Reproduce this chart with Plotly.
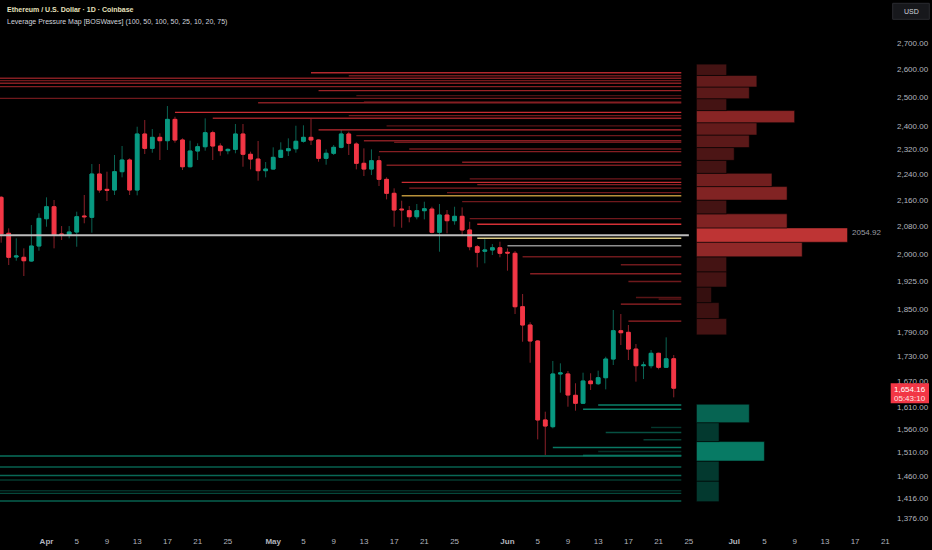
import numpy as np
import pandas as pd
import plotly.graph_objects as go

# ---------------- data ----------------
dates = pd.date_range("2025-03-26", periods=90, freq="D")

opens = [2168.3, 2060.5, 1992.3, 1991.5, 1981.1, 2023.6, 2103.5, 2139.6, 2058.5, 2054.6,
         2064.3, 2111.6, 2107.7, 2241.2, 2193.0, 2191.0, 2248.6, 2286.2, 2191.0, 2372.1,
         2324.3, 2360.9, 2349.7, 2421.8, 2352.0, 2264.5, 2315.6, 2329.7, 2376.5, 2332.0,
         2316.6, 2321.0, 2372.1, 2304.8, 2289.3, 2251.8, 2257.0, 2294.9, 2316.6, 2323.0,
         2347.7, 2360.9, 2352.0, 2291.6, 2308.1, 2327.7, 2372.1, 2338.7, 2275.5, 2257.0,
         2283.9, 2224.3, 2180.7, 2132.5, 2127.6, 2109.5, 2127.6, 2132.5, 2063.4, 2114.6,
         2097.6, 2110.7, 2070.2, 2021.6, 2008.6, 2012.3, 2018.7, 2005.7, 2002.9, 1856.7,
         1809.2, 1768.6, 1581.2, 1566.2, 1687.8, 1687.8, 1637.5, 1619.1, 1671.1, 1664.7,
         1678.9, 1723.9, 1794.6, 1790.5, 1748.5, 1707.7, 1707.7, 1738.0, 1703.8, 1724.6]
highs = [2172.4, 2075.0, 2045.8, 2017.0, 2084.8, 2119.7, 2168.3, 2160.1, 2081.8, 2081.8,
         2124.6, 2175.5, 2273.2, 2273.2, 2248.6, 2302.5, 2332.0, 2291.6, 2396.7, 2419.7,
         2388.8, 2374.4, 2468.1, 2430.9, 2357.5, 2349.7, 2341.0, 2425.3, 2383.2, 2341.0,
         2324.3, 2406.0, 2406.0, 2313.4, 2348.7, 2279.7, 2327.7, 2344.3, 2357.5, 2400.1,
         2401.5, 2425.3, 2354.1, 2321.0, 2335.3, 2385.6, 2379.8, 2344.3, 2324.3, 2321.0,
         2299.2, 2230.7, 2196.2, 2158.0, 2141.7, 2147.9, 2154.9, 2139.6, 2147.9, 2129.7,
         2139.6, 2137.7, 2094.6, 2026.5, 2042.9, 2029.4, 2036.1, 2017.0, 2009.4, 1890.5,
         1816.2, 1771.1, 1599.9, 1719.2, 1713.5, 1695.0, 1665.7, 1690.9, 1689.5, 1695.7,
         1729.6, 1848.1, 1837.6, 1809.2, 1761.1, 1717.4, 1746.2, 1739.5, 1777.8, 1733.8]
lows = [2033.2, 1969.8, 1981.9, 1939.4, 1979.1, 2010.3, 2079.8, 2017.0, 2041.0, 2045.8,
        2021.6, 2089.9, 2062.3, 2182.6, 2157.0, 2175.5, 2230.7, 2175.5, 2174.5, 2305.7,
        2310.0, 2286.2, 2318.9, 2343.0, 2254.0, 2262.5, 2286.2, 2316.6, 2286.2, 2300.2,
        2304.8, 2308.1, 2264.5, 2256.1, 2220.1, 2230.7, 2256.1, 2294.9, 2299.2, 2310.0,
        2343.0, 2335.3, 2280.7, 2271.0, 2302.5, 2324.3, 2302.5, 2256.1, 2234.8, 2238.0,
        2203.4, 2162.1, 2079.8, 2076.8, 2092.9, 2101.6, 2101.6, 2060.5, 2007.4, 2060.5,
        2085.7, 2052.6, 2011.4, 1963.4, 1974.6, 1998.0, 1991.5, 1954.1, 1837.6, 1766.8,
        1715.0, 1538.3, 1504.6, 1562.6, 1643.6, 1611.2, 1602.2, 1617.5, 1649.9, 1661.6,
        1651.4, 1709.4, 1758.5, 1721.6, 1669.5, 1675.7, 1701.3, 1699.0, 1703.8, 1632.8]
closes = [2058.5, 1991.5, 1995.2, 1981.9, 2023.6, 2104.6, 2139.6, 2055.5, 2055.5, 2064.3,
          2109.5, 2109.5, 2241.2, 2191.0, 2190.1, 2248.6, 2286.2, 2191.0, 2372.1, 2324.3,
          2360.9, 2349.7, 2421.8, 2352.0, 2264.5, 2315.6, 2329.7, 2376.5, 2332.0, 2316.6,
          2321.0, 2372.1, 2304.8, 2289.3, 2251.8, 2257.0, 2294.9, 2317.9, 2323.0, 2347.7,
          2360.9, 2352.0, 2291.6, 2308.1, 2327.7, 2372.1, 2341.0, 2275.5, 2257.0, 2283.9,
          2224.3, 2180.7, 2129.7, 2130.4, 2109.5, 2127.6, 2133.4, 2063.4, 2114.6, 2097.6,
          2110.7, 2070.2, 2021.6, 2005.7, 2012.3, 2018.7, 2002.9, 2003.7, 1856.7, 1809.2,
          1768.6, 1581.2, 1567.7, 1687.8, 1690.2, 1638.2, 1619.1, 1671.1, 1664.7, 1678.9,
          1723.9, 1794.6, 1789.5, 1748.5, 1707.7, 1709.4, 1738.0, 1703.8, 1724.6, 1654.16]

# short-side (red) liquidation levels: price, start date, weight
red_levels = [2587.5, 2576.4, 2567.2, 2558.5, 2549.0, 2536.8, 2522.5, 2504.9, 2495.0, 2483.7,
              2479.5, 2446.0, 2434.8, 2425.8, 2399.5, 2386.0, 2366.7, 2349.7, 2344.3, 2322.3,
              2313.4, 2279.1, 2269.4, 2225.8, 2214.7, 2207.8, 2196.7, 2183.0, 2155.3, 2103.9,
              2087.2, 1993.0, 1970.5, 1945.5, 1924.4, 1881.2, 1877.0, 1863.7, 1819.3]
red_starts = ["2025-05-06", "2025-05-11", "2025-03-20", "2025-03-20", "2025-03-20", "2025-03-20",
              "2025-05-07", "2025-05-12", "2025-03-20", "2025-05-13", "2025-04-29", "2025-04-18",
              "2025-05-11", "2025-04-23", "2025-05-16", "2025-05-07", "2025-05-12", "2025-05-13",
              "2025-05-17", "2025-05-19", "2025-05-15", "2025-05-26", "2025-05-16", "2025-05-27",
              "2025-05-18", "2025-05-28", "2025-05-19", "2025-05-24", "2025-05-26", "2025-05-27",
              "2025-05-28", "2025-06-03", "2025-06-16", "2025-06-04", "2025-06-17", "2025-06-18",
              "2025-06-21", "2025-06-16", "2025-06-17"]
red_weights = [0.8, 0.5, 0.6, 0.5, 0.6, 0.6, 0.7, 0.35, 0.5, 0.3,
               0.6, 0.9, 0.5, 0.7, 0.4, 0.85, 0.5, 0.6, 0.5, 0.5,
               0.6, 0.6, 0.55, 0.5, 0.9, 0.6, 0.6, 0.5, 0.5, 0.5,
               0.95, 0.5, 0.5, 0.6, 0.5, 0.4, 0.4, 0.7, 0.7]

# long-side (green) liquidation levels
green_levels = [1615.0, 1605.4, 1564.5, 1553.4, 1537.5, 1520.7, 1512.1, 1503.6, 1502.3,
                1479.1, 1461.6, 1452.1, 1430.3, 1424.8, 1409.5]
green_starts = ["2025-06-13", "2025-06-11", "2025-06-20", "2025-06-14", "2025-06-19", "2025-06-07",
                "2025-06-13", "2025-06-11", "2025-03-20", "2025-03-20", "2025-03-20", "2025-03-20",
                "2025-03-20", "2025-03-20", "2025-03-20"]
green_weights = [0.8, 0.8, 0.35, 0.5, 0.4, 0.75, 0.3, 0.85, 0.7, 0.6, 0.65, 0.35, 0.3, 0.45, 0.6]

levels_end = "2025-06-24"

# special levels
gold_level, gold_start = 2173.3, "2025-05-18"
yellow_level, yellow_start = 2045.8, "2025-05-28"
grey_level, grey_start = 2024.5, "2025-06-01"
poc_level, poc_start, poc_end = 2054.92, "2025-03-20", "2025-06-25"

# pressure profile (price bins of equal width, values in bar units)
bin_low = 1408.2
bin_width = 41.76
profile_values = [3, 3, 9, 3, 7,            # long side (green), bins 0-4
                  0, 0, 0, 0,               # empty bins near price
                  4, 3, 2, 4, 4, 14, 20, 12, 4, 12,
                  10, 4, 5, 7, 8, 13, 4, 7, 8, 4]   # short side (red)
profile_start = "2025-06-26"

ytick_vals = [2700, 2600, 2500, 2400, 2320, 2240, 2160, 2080, 2000, 1925, 1850, 1790,
              1730, 1670, 1610, 1560, 1510, 1460, 1416, 1376]
xtick_dates = ["2025-04-01", "2025-04-05", "2025-04-09", "2025-04-13", "2025-04-17", "2025-04-21",
               "2025-04-25", "2025-05-01", "2025-05-05", "2025-05-09", "2025-05-13", "2025-05-17",
               "2025-05-21", "2025-05-25", "2025-06-01", "2025-06-05", "2025-06-09", "2025-06-13",
               "2025-06-17", "2025-06-21", "2025-06-25", "2025-07-01", "2025-07-05", "2025-07-09",
               "2025-07-13", "2025-07-17", "2025-07-21"]
xtick_text = ["Apr", "5", "9", "13", "17", "21", "25", "May", "5", "9", "13", "17", "21", "25",
              "Jun", "5", "9", "13", "17", "21", "25", "Jul", "5", "9", "13", "17", "21"]

last_price = closes[-1]

# ---------------- styling helpers ----------------
RED = (222, 50, 56)
GREEN = (12, 160, 132)


def shade(base, w):
    return "rgb(%d,%d,%d)" % tuple(int(round(c * w)) for c in base)


fig = go.Figure()

# level lines
for lvl, st, w in zip(red_levels, red_starts, red_weights):
    fig.add_trace(go.Scatter(x=[st, levels_end], y=[lvl, lvl], mode="lines",
                             line=dict(color=shade(RED, w), width=1.4), hoverinfo="skip"))
for lvl, st, w in zip(green_levels, green_starts, green_weights):
    fig.add_trace(go.Scatter(x=[st, levels_end], y=[lvl, lvl], mode="lines",
                             line=dict(color=shade(GREEN, w), width=1.4), hoverinfo="skip"))
for lvl, st, col in [(gold_level, gold_start, "#b8913a"), (yellow_level, yellow_start, "#d9c983"),
                     (grey_level, grey_start, "#8f8f8f")]:
    fig.add_trace(go.Scatter(x=[st, levels_end], y=[lvl, lvl], mode="lines",
                             line=dict(color=col, width=1.5), hoverinfo="skip"))
fig.add_trace(go.Scatter(x=[poc_start, poc_end], y=[poc_level, poc_level], mode="lines",
                         line=dict(color="#bdbdbd", width=2), hoverinfo="skip"))

# profile bars
start_ts = pd.Timestamp(profile_start)
red_max = max(profile_values[9:])
green_max = max(profile_values[:5])
for i, v in enumerate(profile_values):
    if v == 0:
        continue
    lo = bin_low + i * bin_width
    hi = lo + bin_width
    x1 = start_ts + pd.Timedelta(days=v)
    if i < 5:
        col = shade((7, 122, 100), 0.2 + 0.8 * v / green_max)
    else:
        col = shade((190, 52, 52), 0.2 + 0.8 * v / red_max)
    fig.add_trace(go.Scatter(x=[start_ts, x1, x1, start_ts, start_ts], y=[lo, lo, hi, hi, lo],
                             mode="lines", fill="toself", fillcolor=col,
                             line=dict(color="rgba(0,0,0,0.55)", width=1), hoverinfo="skip"))

# candles: wicks (darker), then bodies
fig.add_trace(go.Candlestick(x=dates, open=opens, high=highs, low=lows, close=closes,
                             increasing=dict(line=dict(color="#0b6252", width=1), fillcolor="#0b6252"),
                             decreasing=dict(line=dict(color="#8a2029", width=1), fillcolor="#8a2029"),
                             hoverinfo="skip"))
body_hi = [max(o, c) for o, c in zip(opens, closes)]
body_lo = [min(o, c) for o, c in zip(opens, closes)]
fig.add_trace(go.Candlestick(x=dates, open=opens, high=body_hi, low=body_lo, close=closes,
                             increasing=dict(line=dict(color="#089981", width=1), fillcolor="#089981"),
                             decreasing=dict(line=dict(color="#f23645", width=1), fillcolor="#f23645"),
                             hoverinfo="skip"))

# ---------------- layout ----------------
apr1 = pd.Timestamp("2025-04-01")
x_lo = apr1 + pd.Timedelta(days=-6.153)
x_hi = apr1 + pd.Timedelta(days=111.22)
y_top, y_bot = 2868.6, 1356.6

FONT = "Liberation Sans"
fig.update_layout(
    width=932, height=550,
    margin=dict(l=0, r=45, t=0, b=22),
    paper_bgcolor="#000000", plot_bgcolor="#000000",
    showlegend=False, hovermode=False,
    font=dict(family=FONT, size=8, color="#b2b5be"),
    xaxis=dict(type="date", range=[x_lo, x_hi], showgrid=False, zeroline=False,
               rangeslider=dict(visible=False), tickvals=xtick_dates,
               ticktext=[("<b>%s</b>" % t if not t.isdigit() else t) for t in xtick_text],
               ticks="", tickfont=dict(family=FONT, size=8, color="#b2b5be"),
               ticklabelstandoff=7, showline=False),
    yaxis=dict(type="log", side="right", range=[np.log10(y_bot), np.log10(y_top)],
               showgrid=False, zeroline=False, tickvals=ytick_vals,
               ticktext=["{:,.2f}".format(v) for v in ytick_vals], ticks="",
               tickfont=dict(family=FONT, size=8, color="#b2b5be"),
               ticklabelstandoff=9, showline=False),
)

H = 528.0
W = 887.0


def px(x):
    return x / W


def py(y):
    return 1 - y / H


annotations = [
    dict(text="<b>Ethereum / U.S. Dollar · 1D · Coinbase</b>", xref="paper", yref="paper",
         x=px(5), y=py(10), xanchor="left", yanchor="middle", showarrow=False,
         font=dict(family=FONT, size=7, color="#e6e1bd")),
    dict(text="Leverage Pressure Map [BOSWaves] (100, 50, 100, 50, 25, 10, 20, 75)", xref="paper",
         yref="paper", x=px(5), y=py(21.5), xanchor="left", yanchor="middle", showarrow=False,
         font=dict(family=FONT, size=7, color="#d1d4dc")),
    dict(text="%.2f" % poc_level, xref="x", yref="y",
         x=start_ts + pd.Timedelta(days=max(profile_values)), y=np.log10(poc_level),
         xanchor="left", yanchor="middle", xshift=2, yshift=3, showarrow=False,
         font=dict(family=FONT, size=8, color="#9a9ca3")),
    dict(text="USD", xref="paper", yref="paper", x=px(911), y=py(11.3), xanchor="center",
         yanchor="middle", showarrow=False, font=dict(family=FONT, size=7, color="#d1d4dc")),
    dict(text="{:,.2f}".format(last_price), xref="paper", yref="paper", x=px(910), y=py(389),
         xanchor="center", yanchor="middle", showarrow=False,
         font=dict(family=FONT, size=8, color="#ffffff")),
    dict(text="05:43:10", xref="paper", yref="paper", x=px(910), y=py(398.5),
         xanchor="center", yanchor="middle", showarrow=False,
         font=dict(family=FONT, size=8, color="#ffe4e4")),
]
fig.update_layout(annotations=annotations)

fig.update_layout(shapes=[
    dict(type="rect", xref="paper", yref="paper", x0=px(892.7), x1=px(929.3), y0=py(19.3), y1=py(3.3),
         fillcolor="#17181c", line=dict(color="#2a2b30", width=1), layer="above"),
    dict(type="rect", xref="paper", yref="paper", x0=px(890.7), x1=px(929), y0=py(403.3), y1=py(383.3),
         fillcolor="#f23645", line=dict(width=0), layer="above"),
])

fig.write_html("out.html")
